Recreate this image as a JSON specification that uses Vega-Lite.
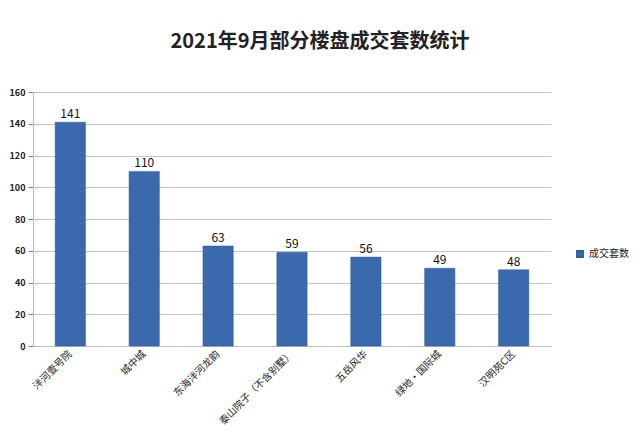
{
  "$schema": "https://vega.github.io/schema/vega-lite/v6.json",
  "width": 518,
  "height": 254,
  "autosize": {"type": "none"},
  "padding": {"left": 33, "top": 92, "right": 89, "bottom": 98},
  "background": "white",
  "config": {
    "font": "Noto Sans CJK SC",
    "view": {"stroke": null}
  },
  "title": {
    "text": "2021年9月部分楼盘成交套数统计",
    "fontSize": 20,
    "fontWeight": "bold",
    "color": "#222222",
    "anchor": "middle",
    "dx": 28,
    "offset": 36
  },
  "data": {
    "values": [
      {"name": "泮河壹号院", "value": 141, "series": "成交套数"},
      {"name": "城中城", "value": 110, "series": "成交套数"},
      {"name": "东海泮河龙韵", "value": 63, "series": "成交套数"},
      {"name": "泰山院子（不含别墅）", "value": 59, "series": "成交套数"},
      {"name": "五岳风华", "value": 56, "series": "成交套数"},
      {"name": "绿地·国际城", "value": 49, "series": "成交套数"},
      {"name": "汉明苑C区", "value": 48, "series": "成交套数"}
    ]
  },
  "encoding": {
    "x": {
      "field": "name",
      "type": "nominal",
      "sort": null,
      "scale": {"paddingInner": 0.59, "paddingOuter": 0.3},
      "axis": {
        "title": null,
        "labelAngle": -45,
        "labelAlign": "right",
        "labelBaseline": "middle",
        "labelFontSize": 10,
        "labelColor": "#222222",
        "ticks": false,
        "labelPadding": 6,
        "domainColor": "#bfbfbf"
      }
    },
    "y": {
      "field": "value",
      "type": "quantitative",
      "scale": {"domain": [0, 160]},
      "axis": {
        "title": null,
        "values": [0, 20, 40, 60, 80, 100, 120, 140, 160],
        "grid": true,
        "gridColor": "#c4c4c4",
        "tickSize": 5,
        "tickColor": "#7f7f7f",
        "domainColor": "#bfbfbf",
        "labelFontSize": 9,
        "labelFontWeight": "bold",
        "labelColor": "#222222",
        "labelPadding": 3
      }
    }
  },
  "layer": [
    {
      "mark": {"type": "bar", "stroke": "#2f5a96", "strokeWidth": 0.5},
      "encoding": {
        "color": {
          "field": "series",
          "type": "nominal",
          "scale": {"range": ["#3a69ae"]},
          "legend": {
            "title": null,
            "orient": "none",
            "legendX": 542,
            "legendY": 157,
            "symbolType": "square",
            "symbolSize": 40,
            "labelFontSize": 10,
            "labelColor": "#222222"
          }
        }
      }
    },
    {
      "mark": {"type": "text", "dy": -8, "fontSize": 12, "color": "#111111"},
      "encoding": {"text": {"field": "value", "type": "quantitative"}}
    }
  ]
}
